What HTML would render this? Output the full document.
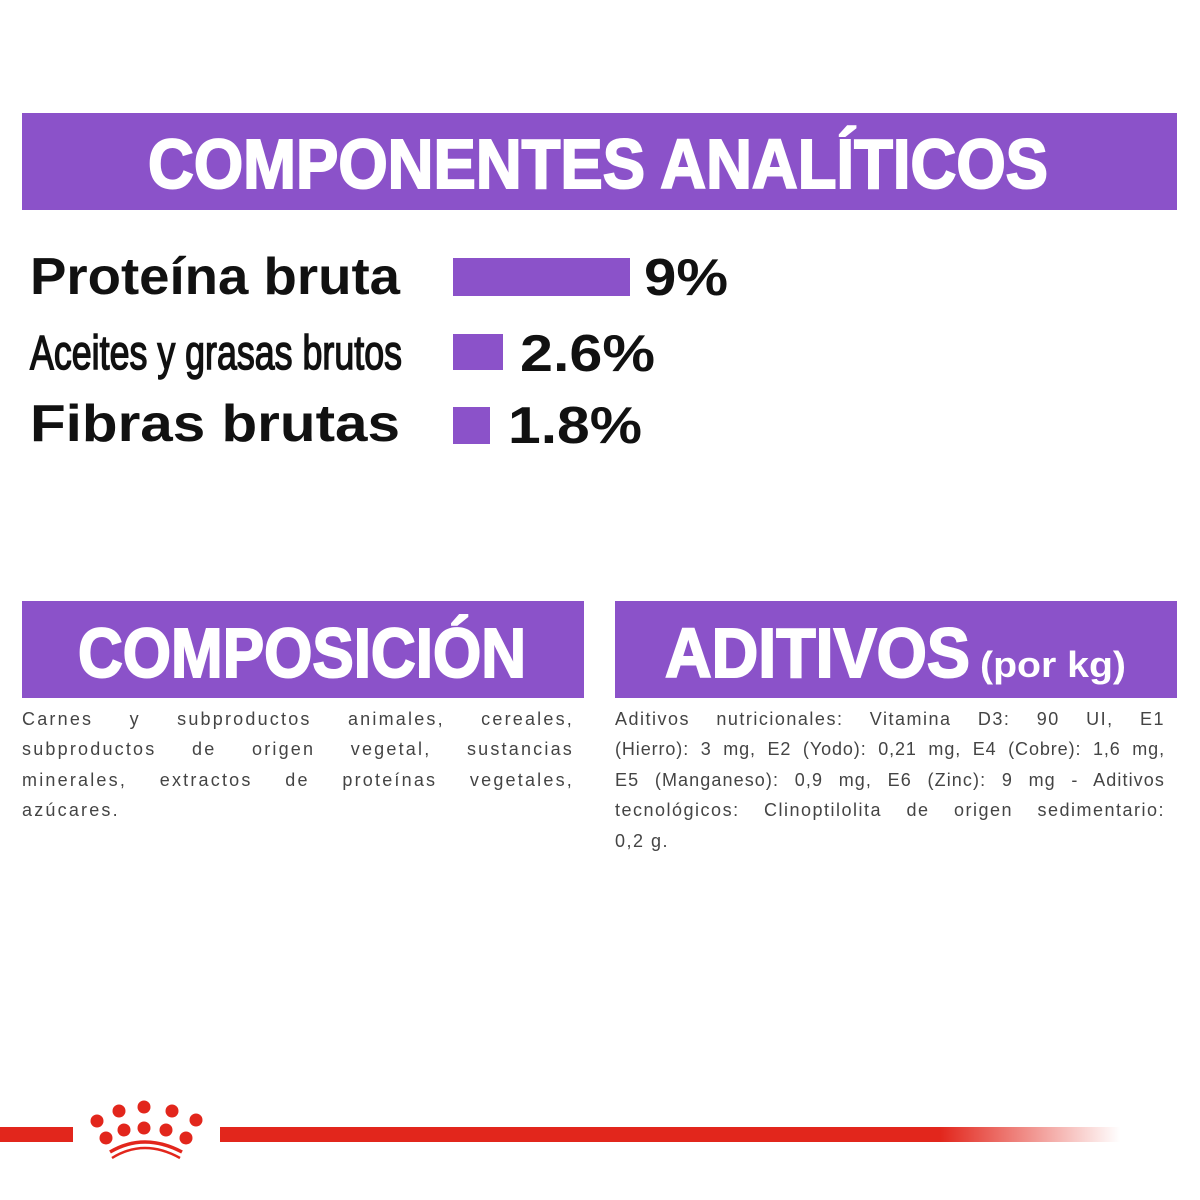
<!DOCTYPE html>
<html><head><meta charset="utf-8"><style>
html,body{margin:0;padding:0;background:#fff;width:1200px;height:1200px;overflow:hidden;position:relative}
svg{display:block;position:absolute;left:0;top:0}
.l{position:absolute;font-family:"Liberation Sans",sans-serif;font-size:18px;color:#444;text-align:justify;text-align-last:justify;white-space:nowrap;line-height:22px;letter-spacing:2.2px}
.l.e{text-align-last:left}
.a{letter-spacing:1.5px}
</style></head><body>
<svg width="1200" height="1200" viewBox="0 0 1200 1200" xmlns="http://www.w3.org/2000/svg" font-family="Liberation Sans, sans-serif">
<defs><linearGradient id="fade" x1="0" x2="1"><stop offset="0.8" stop-color="#e2261c"/><stop offset="1" stop-color="#e2261c" stop-opacity="0"/></linearGradient></defs>
<rect x="22" y="113" width="1155" height="97" fill="#8b52c9"/>
<text x="148" y="188" font-size="70" font-weight="bold" fill="#fff" stroke="#fff" stroke-width="2" textLength="900" lengthAdjust="spacingAndGlyphs">COMPONENTES ANALÍTICOS</text>
<g fill="#111" font-weight="bold">
<text x="30" y="294" font-size="52" textLength="370" lengthAdjust="spacingAndGlyphs">Proteína bruta</text>
<text x="30" y="369" font-size="48" textLength="372" lengthAdjust="spacingAndGlyphs" font-weight="normal" stroke="#111" stroke-width="1.5">Aceites y grasas brutos</text>
<text x="30" y="441" font-size="52" textLength="370" lengthAdjust="spacingAndGlyphs">Fibras brutas</text>
<text x="644" y="295" font-size="52" textLength="84" lengthAdjust="spacingAndGlyphs">9%</text>
<text x="520" y="371" font-size="52" textLength="135" lengthAdjust="spacingAndGlyphs">2.6%</text>
<text x="508" y="443" font-size="52" textLength="134" lengthAdjust="spacingAndGlyphs">1.8%</text>
</g>
<g fill="#8b52c9">
<rect x="453" y="258" width="177" height="38"/>
<rect x="453" y="334" width="50" height="36"/>
<rect x="453" y="407" width="37" height="37"/>
</g>
<rect x="22" y="601" width="562" height="97" fill="#8b52c9"/>
<text x="78" y="677" font-size="70" font-weight="bold" fill="#fff" stroke="#fff" stroke-width="2" textLength="448" lengthAdjust="spacingAndGlyphs">COMPOSICIÓN</text>
<rect x="615" y="601" width="562" height="97" fill="#8b52c9"/>
<text x="665" y="677" font-size="70" font-weight="bold" fill="#fff" stroke="#fff" stroke-width="2" textLength="305" lengthAdjust="spacingAndGlyphs">ADITIVOS</text>
<text x="980" y="677" font-size="36" font-weight="bold" fill="#fff" textLength="146" lengthAdjust="spacingAndGlyphs">(por kg)</text>
<rect x="0" y="1127" width="73" height="15" fill="#e2261c"/>
<rect x="220" y="1127" width="900" height="15" fill="url(#fade)"/>
<g fill="#e2261c">
<circle cx="97" cy="1121" r="6.5"/><circle cx="119" cy="1111" r="6.5"/><circle cx="144" cy="1107" r="6.5"/><circle cx="172" cy="1111" r="6.5"/><circle cx="196" cy="1120" r="6.5"/>
<circle cx="106" cy="1138" r="6.5"/><circle cx="124" cy="1130" r="6.5"/><circle cx="144" cy="1128" r="6.5"/><circle cx="166" cy="1130" r="6.5"/><circle cx="186" cy="1138" r="6.5"/>
</g>
<path d="M110 1152 Q144 1132 182 1152" stroke="#e2261c" stroke-width="3.5" fill="none"/>
<path d="M112 1158 Q144 1138 180 1158" stroke="#e2261c" stroke-width="2.5" fill="none"/>
</svg>
<div class="l" style="left:22px;top:708px;width:552px">Carnes y subproductos animales, cereales,</div>
<div class="l" style="left:22px;top:738px;width:552px">subproductos de origen vegetal, sustancias</div>
<div class="l" style="left:22px;top:769px;width:552px">minerales, extractos de proteínas vegetales,</div>
<div class="l e" style="left:22px;top:799px;width:552px">azúcares.</div>
<div class="l a" style="left:615px;top:708px;width:550px">Aditivos nutricionales: Vitamina D3: 90 UI, E1</div>
<div class="l a" style="left:615px;top:738px;width:550px;letter-spacing:0.9px">(Hierro): 3 mg, E2 (Yodo): 0,21 mg, E4 (Cobre): 1,6 mg,</div>
<div class="l a" style="left:615px;top:769px;width:550px;letter-spacing:1.1px">E5 (Manganeso): 0,9 mg, E6 (Zinc): 9 mg - Aditivos</div>
<div class="l a" style="left:615px;top:799px;width:550px">tecnológicos: Clinoptilolita de origen sedimentario:</div>
<div class="l a e" style="left:615px;top:830px;width:550px">0,2 g.</div>
</body></html>
